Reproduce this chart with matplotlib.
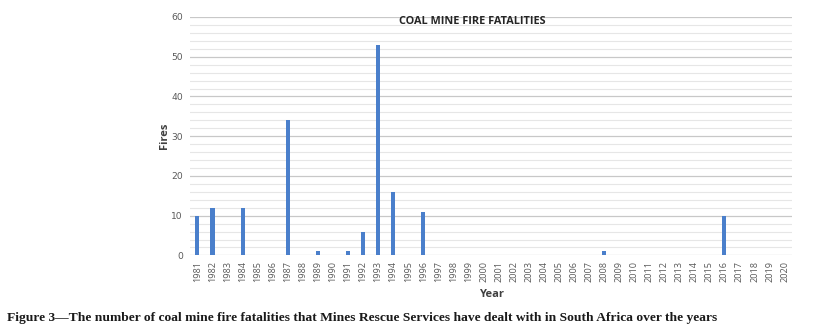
import numpy as np
import matplotlib
matplotlib.use("Agg")
from matplotlib import pyplot as plt

years = list(range(1981, 2021))
fire_years = [1981, 1982, 1984, 1987, 1989, 1991, 1992, 1993, 1994, 1996, 2008, 2016]
fire_counts = [10, 12, 12, 34, 1, 1, 6, 53, 16, 11, 1, 10]

counts = [0] * len(years)
for y, c in zip(fire_years, fire_counts):
    counts[years.index(y)] = c

x = np.arange(len(years))

fig = plt.figure(figsize=(8.15, 3.33), dpi=100)
ax = fig.add_axes([0.233, 0.233, 0.739, 0.716])

# gridlines: light every 2, darker every 10
for v in range(2, 61, 2):
    if v % 10 == 0:
        ax.axhline(v, color='#c8c8c8', lw=0.9, zorder=0)
    else:
        ax.axhline(v, color='#e6e6e6', lw=0.8, zorder=0)

ax.bar(x, counts, width=0.27, color='#4a7fcb', zorder=2)
ax.axhline(0, color='#c8c8c8', lw=0.9, zorder=1)

ax.set_xlim(-0.5, len(years) - 0.5)
ax.set_ylim(0, 60)
ax.set_yticks(range(0, 61, 10))
ax.set_xticks(x)
ax.set_xticklabels([str(y) for y in years], rotation=90, fontsize=6.6, color='#595959', family='Open Sans')
ax.tick_params(axis='y', labelsize=6.6, labelcolor='#595959', length=0, pad=5)
ax.tick_params(axis='x', length=0, pad=4)
for s in ax.spines.values():
    s.set_visible(False)

ax.set_ylabel('Fires', fontsize=8, fontweight='bold', color='#404040', family='Open Sans', labelpad=1)
ax.set_xlabel('Year', fontsize=8, fontweight='bold', color='#404040', family='Open Sans', labelpad=5)

fig.text(0.58, 0.934, 'COAL MINE FIRE FATALITIES', ha='center', va='center',
         fontsize=7.8, fontweight='bold', color='#262626', family='Open Sans')

fig.text(0.009, 0.045, 'Figure 3\u2014The number of coal mine fire fatalities that Mines Rescue Services have dealt with in South Africa over the years',
         ha='left', va='center', fontsize=9.7, fontweight='bold', color='#1a1a1a', family='Liberation Serif')

fig.savefig('out.png', dpi=100)
